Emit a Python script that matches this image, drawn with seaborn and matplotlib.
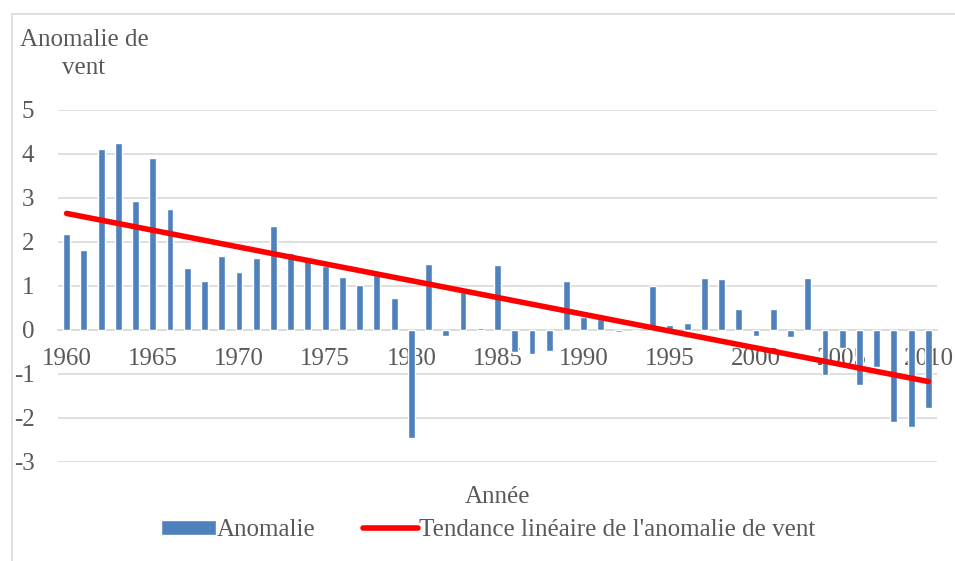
import numpy as np
import pandas as pd
import seaborn as sns
import matplotlib.pyplot as plt
from matplotlib.patches import Rectangle

years = list(range(1960, 2011))
anomalie = [
    2.19, 1.81, 4.11, 4.25, 2.94, 3.92, 2.75, 1.40, 1.12, 1.69,
    1.31, 1.64, 2.36, 1.74, 1.57, 1.45, 1.21, 1.03, 1.24, 0.73,
    -2.46, 1.49, -0.14, 0.86, 0.05, 1.48, -0.51, -0.54, -0.48, 1.11,
    0.29, 0.24, -0.04, 0.00, 1.00, 0.11, 0.17, 1.19, 1.17, 0.48,
    -0.14, 0.48, -0.16, 1.18, -1.02, -0.42, -1.24, -0.84, -2.08, -2.21,
    -1.78,
]
tick_years = [1960, 1965, 1970, 1975, 1980, 1985, 1990, 1995, 2000, 2005, 2010]
y_ticks = [-3, -2, -1, 0, 1, 2, 3, 4, 5]

BLUE = "#4f81bd"
RED = "#ff0000"
GRID = "#d9d9d9"
TEXT = "#595959"
FS = 18


def main():
    df = pd.DataFrame({"Année": years, "Anomalie": anomalie})

    # droite de tendance (moindres carrés)
    pente, origine = np.polyfit(df["Année"], df["Anomalie"], 1)
    df["Tendance"] = origine + pente * df["Année"]

    sns.set_style("white")
    plt.rcParams["font.family"] = ["Liberation Serif", "DejaVu Serif"]
    plt.rcParams["font.size"] = FS
    plt.rcParams["axes.unicode_minus"] = False

    fig = plt.figure(figsize=(9.55, 5.61), dpi=100)
    ax = fig.add_axes([58 / 955, 1 - 462 / 561, (937 - 58) / 955, (462 - 110) / 561])

    sns.barplot(data=df, x="Année", y="Anomalie", color=BLUE, width=0.4,
                native_scale=True, saturation=1, ax=ax, label="Anomalie")
    sns.lineplot(data=df, x="Année", y="Tendance", color=RED, linewidth=4,
                 ax=ax, label="Tendance linéaire de l'anomalie de vent")

    ax.set_xlim(1959.5, 2010.5)
    ax.set_ylim(-3, 5)
    ax.set_yticks(y_ticks)
    ax.set_xticks(tick_years)
    ax.set_xticklabels([str(y) for y in tick_years])
    ax.grid(axis="y", color=GRID, linewidth=1.2)
    ax.set_axisbelow(True)

    for side in ["top", "right", "left"]:
        ax.spines[side].set_visible(False)
    ax.spines["bottom"].set_position(("data", 0))
    ax.spines["bottom"].set_color(GRID)
    ax.spines["bottom"].set_linewidth(1.2)
    ax.spines["bottom"].set_zorder(0.5)
    ax.tick_params(axis="x", length=0, pad=13, colors=TEXT, labelsize=FS)
    ax.tick_params(axis="y", length=0, pad=17, colors=TEXT, labelsize=FS)
    ax.set_xlabel("")
    ax.set_ylabel("")

    handles, labels = ax.get_legend_handles_labels()
    order = [labels.index("Anomalie"), labels.index("Tendance linéaire de l'anomalie de vent")]
    ax.get_legend().remove()
    fig.legend([handles[i] for i in order], [labels[i] for i in order],
               loc="center", bbox_to_anchor=(488 / 955, 1 - 530 / 561),
               ncol=2, frameon=False, handlelength=2.2, handleheight=0.55,
               handletextpad=0.05, columnspacing=1.9, labelcolor=TEXT, fontsize=FS)

    fig.text(84 / 955, 1 - 54 / 561, "Anomalie de\nvent", ha="center", va="center",
             multialignment="center", color=TEXT, fontsize=FS, linespacing=1.35)
    fig.text(497 / 955, 1 - 497 / 561, "Année", ha="center", va="center",
             color=TEXT, fontsize=FS)

    fig.patches.append(Rectangle((12 / 955, -0.05), 1.0, 1.05 - 14 / 561,
                                 transform=fig.transFigure, fill=False,
                                 edgecolor=GRID, linewidth=1.2))

    fig.savefig("out.png", dpi=100)


if __name__ == "__main__":
    main()
